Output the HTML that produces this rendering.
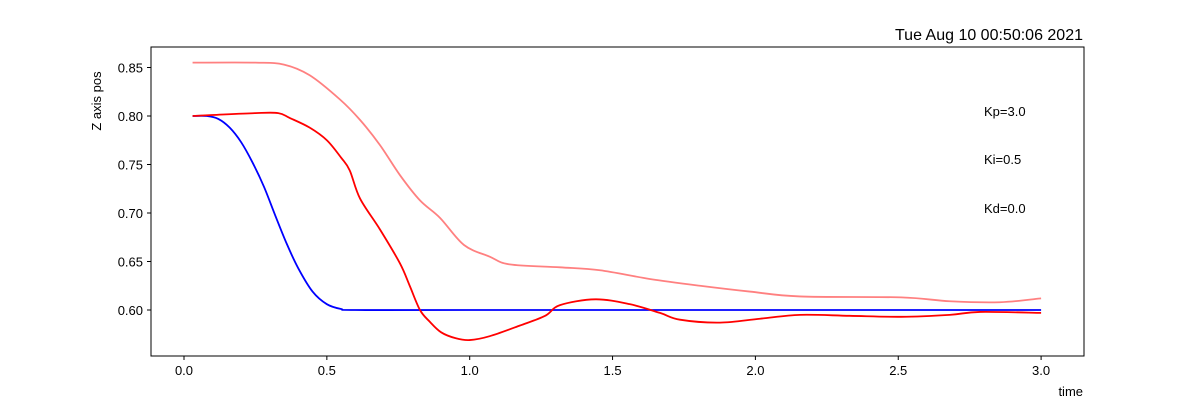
<!DOCTYPE html>
<html><head><meta charset="utf-8"><style>
html,body{margin:0;padding:0;background:#fff;}
svg{display:block;font-family:"Liberation Sans","DejaVu Sans",sans-serif;}
</style></head><body>
<svg id="chart" width="1204" height="400">
<rect x="151" y="47" width="933" height="309" fill="none" stroke="#000" stroke-width="1"/>
<g id="xt"></g>
<g id="yt"></g>
<g id="lines"></g>
<text x="1083" y="40" font-size="16" text-anchor="end">Tue Aug 10 00:50:06 2021</text>
<text x="1083" y="396" font-size="13" text-anchor="end">time</text>
<text transform="translate(101,101) rotate(-90)" font-size="13" text-anchor="middle">Z axis pos</text>
<text x="984" y="116" font-size="13">Kp=3.0</text>
<text x="984" y="164" font-size="13">Ki=0.5</text>
<text x="984" y="213" font-size="13">Kd=0.0</text>
</svg>
<script>
const xTicks=[0,0.5,1,1.5,2,2.5,3];
const xTickLabels=["0.0","0.5","1.0","1.5","2.0","2.5","3.0"];
const yTicks=[0.6,0.65,0.7,0.75,0.8,0.85];
const yTickLabels=["0.60","0.65","0.70","0.75","0.80","0.85"];
const blueT=[0.03,0.08,0.12,0.16,0.2,0.24,0.28,0.32,0.36,0.4,0.45,0.5,0.55,0.6,1.0,3.0];
const blueV=[0.8,0.8,0.797,0.788,0.773,0.752,0.727,0.697,0.668,0.643,0.619,0.606,0.601,0.6,0.6,0.6];
const redT=[0.03,0.1,0.25,0.33,0.37,0.44,0.5,0.55,0.58,0.616,0.686,0.756,0.79,0.826,0.86,0.9,0.95,1.0,1.07,1.176,1.264,1.316,1.44,1.56,1.666,1.736,1.876,2.016,2.156,2.33,2.51,2.68,2.786,3.0];
const redV=[0.8,0.801,0.803,0.803,0.798,0.788,0.775,0.757,0.744,0.715,0.683,0.648,0.625,0.6,0.588,0.577,0.571,0.569,0.573,0.584,0.594,0.605,0.611,0.606,0.597,0.59,0.587,0.591,0.595,0.594,0.593,0.595,0.598,0.597];
const pinkT=[0.03,0.25,0.35,0.44,0.546,0.616,0.686,0.756,0.826,0.896,0.98,1.07,1.14,1.316,1.456,1.63,1.806,1.98,2.156,2.51,2.68,2.856,3.0];
const pinkV=[0.855,0.855,0.853,0.842,0.817,0.796,0.77,0.739,0.713,0.695,0.667,0.655,0.647,0.644,0.641,0.632,0.625,0.619,0.614,0.613,0.609,0.608,0.612];
const X=t=>184+t*285.7;
const Y=v=>310-(v-0.6)*970;
const NS="http://www.w3.org/2000/svg";
const xt=document.getElementById('xt'),yt=document.getElementById('yt'),lg=document.getElementById('lines');
xTicks.forEach((t,i)=>{
 const l=document.createElementNS(NS,'line');
 l.setAttribute('x1',X(t));l.setAttribute('x2',X(t));l.setAttribute('y1',356);l.setAttribute('y2',360);l.setAttribute('stroke','#000');
 
 
 xt.appendChild(l);
 const tx=document.createElementNS(NS,'text');
 tx.setAttribute('x',X(t));tx.setAttribute('y',375);tx.setAttribute('font-size','13');tx.setAttribute('text-anchor','middle');
 tx.textContent=xTickLabels[i];
 
 
 xt.appendChild(tx);
});
yTicks.forEach((v,i)=>{
 const l=document.createElementNS(NS,'line');
 l.setAttribute('x1',147);l.setAttribute('x2',151);l.setAttribute('y1',Y(v));l.setAttribute('y2',Y(v));l.setAttribute('stroke','#000');
 
 
 yt.appendChild(l);
 const tx=document.createElementNS(NS,'text');
 tx.setAttribute('x',143);tx.setAttribute('y',Y(v)+5);tx.setAttribute('font-size','13');tx.setAttribute('text-anchor','end');
 tx.textContent=yTickLabels[i];
 
 
 yt.appendChild(tx);
});
function line(T,V,color,name){
 const P=T.map((t,i)=>[X(t),Y(V[i])]);
 let d='M'+P[0][0]+','+P[0][1];
 for(let i=0;i<P.length-1;i++){
  const p0=P[i-1]||P[i],p1=P[i],p2=P[i+1],p3=P[i+2]||P[i+1];
  const c1=[p1[0]+(p2[0]-p0[0])/6,p1[1]+(p2[1]-p0[1])/6];
  const c2=[p2[0]-(p3[0]-p1[0])/6,p2[1]-(p3[1]-p1[1])/6];
  d+=' C'+c1[0]+','+c1[1]+' '+c2[0]+','+c2[1]+' '+p2[0]+','+p2[1];
 }
 const p=document.createElementNS(NS,'path');
 p.setAttribute('d',d);
 p.setAttribute('fill','none');p.setAttribute('stroke',color);p.setAttribute('stroke-width','1.8');p.setAttribute('stroke-linejoin','round');
 
 
 lg.appendChild(p);
}
line(pinkT,pinkV,'#ff8080','pink-line');
line(blueT,blueV,'#0000ff','blue-line');
line(redT,redV,'#ff0000','red-line');
</script>
</body></html>
